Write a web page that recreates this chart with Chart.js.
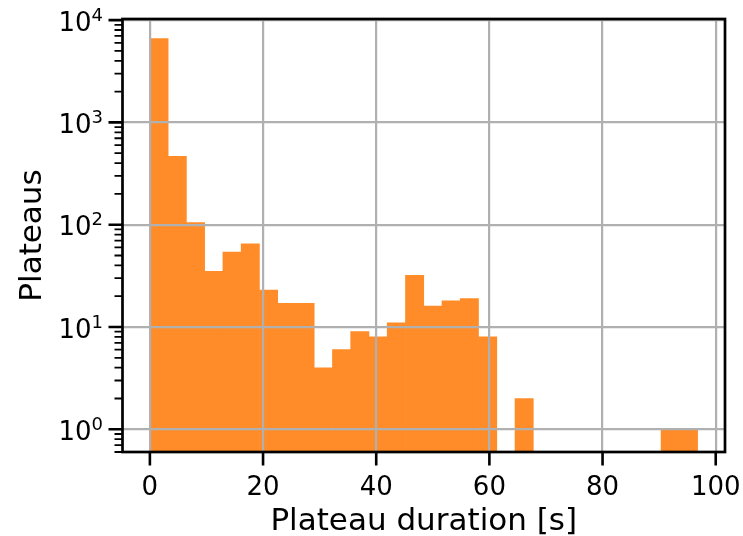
<!DOCTYPE html>
<html>
<head>
<meta charset="utf-8">
<script src="https://cdn.jsdelivr.net/npm/chart.js@4/dist/chart.umd.min.js"></script>
<style>
html,body{margin:0;padding:0;background:#ffffff;}
#wrap{width:743px;height:536px;position:relative;}
</style>
</head>
<body>
<div id="wrap"><canvas id="c" width="743" height="536"></canvas></div>
<script>
// ---- data (histogram of plateau durations) ----
const binEdges = [0, 3.23, 6.45, 9.68, 12.91, 16.13, 19.36, 22.59, 25.81, 29.04,
                  32.27, 35.49, 38.72, 41.95, 45.17, 48.40, 51.63, 54.85, 58.08, 61.31,
                  64.53, 67.76, 70.99, 74.21, 77.44, 80.67, 83.89, 87.12, 90.35, 93.57, 96.80];
const counts = [6600, 465, 105, 35, 54, 65, 23, 17, 17, 4,
                6, 9, 8, 11, 32, 16, 18, 19, 8, null,
                2, null, null, null, null, null, null, null, 1, 1];
const xTickValues = [0, 20, 40, 60, 80, 100];
const yTickExponents = [0, 1, 2, 3, 4];
const xLabel = 'Plateau duration [s]';
const yLabel = 'Plateaus';

const points = [];
for (let i = 0; i < counts.length; i++) {
  if (counts[i] !== null) points.push({x: (binEdges[i] + binEdges[i + 1]) / 2, y: counts[i]});
}

const FONT = '"DejaVu Sans", Verdana, sans-serif';

const axisDecor = {
  id: 'axisDecor',
  afterDraw(chart) {
    const {ctx, chartArea: a, scales: {x, y}} = chart;
    ctx.save();
    ctx.strokeStyle = '#000';
    ctx.lineCap = 'butt';
    // major ticks
    ctx.lineWidth = 2.6;
    ctx.beginPath();
    xTickValues.forEach(v => {
      const px = x.getPixelForValue(v);
      ctx.moveTo(px, a.bottom); ctx.lineTo(px, a.bottom + 13.5);
    });
    yTickExponents.forEach(e => {
      const py = y.getPixelForValue(Math.pow(10, e));
      ctx.moveTo(a.left, py); ctx.lineTo(a.left - 14, py);
    });
    ctx.stroke();
    // minor ticks (log axis)
    ctx.lineWidth = 1.8;
    ctx.beginPath();
    for (let e = -1; e <= 4; e++) {
      for (let k = 2; k <= 9; k++) {
        const v = k * Math.pow(10, e);
        if (v < y.min || v > y.max) continue;
        const py = y.getPixelForValue(v);
        ctx.moveTo(a.left, py); ctx.lineTo(a.left - 8, py);
      }
    }
    ctx.stroke();
    // frame
    ctx.lineWidth = 2.7;
    ctx.strokeRect(a.left, a.top, a.right - a.left, a.bottom - a.top);
    // x tick labels
    ctx.fillStyle = '#000';
    ctx.font = '26px ' + FONT;
    ctx.textAlign = 'center';
    ctx.textBaseline = 'alphabetic';
    xTickValues.forEach(v => ctx.fillText(String(v), x.getPixelForValue(v), a.bottom + 42.5));
    // y tick labels 10^n
    yTickExponents.forEach(e => {
      const py = y.getPixelForValue(Math.pow(10, e));
      const right = a.left - 19.5;
      ctx.font = '18px ' + FONT;
      const wExp = ctx.measureText(String(e)).width;
      ctx.textAlign = 'left';
      ctx.fillText(String(e), right - wExp, py + 0.7);
      ctx.font = '26px ' + FONT;
      ctx.textAlign = 'right';
      ctx.fillText('10', right - wExp, py + 10.7);
    });
    ctx.restore();
  }
};

const gridColor = '#b0b0b0';

new Chart(document.getElementById('c'), {
  type: 'bar',
  data: {
    datasets: [{
      label: yLabel,
      data: points,
      backgroundColor: 'rgb(255,140,40)',
      borderWidth: 0,
      barPercentage: 1.0,
      categoryPercentage: 1.0
    }]
  },
  options: {
    responsive: false,
    animation: false,
    devicePixelRatio: 1,
    layout: {padding: {top: 19, right: 18, left: 0, bottom: 0}},
    plugins: {legend: {display: false}, tooltip: {enabled: false}},
    scales: {
      x: {
        type: 'linear',
        offset: false,
        min: -4.84,
        max: 101.64,
        afterBuildTicks: s => { s.ticks = xTickValues.map(v => ({value: v})); },
        afterFit: s => { s.height = 84; },
        grid: {color: gridColor, lineWidth: 2.2, drawTicks: false, offset: false, z: 1},
        border: {display: false},
        ticks: {display: false},
        title: {display: true, text: xLabel, color: '#000',
                font: {family: FONT, size: 31}, padding: {top: 0, bottom: -4.4}}
      },
      y: {
        type: 'logarithmic',
        min: 0.644,
        max: 10250,
        afterBuildTicks: s => { s.ticks = yTickExponents.map(e => ({value: Math.pow(10, e), major: true})); },
        afterFit: s => { s.width = 122.5; },
        grid: {color: gridColor, lineWidth: 2.2, drawTicks: false, z: 1},
        border: {display: false},
        ticks: {display: false},
        title: {display: true, text: yLabel, color: '#000',
                font: {family: FONT, size: 31}, padding: {top: 14.5, bottom: 0}}
      }
    }
  },
  plugins: [axisDecor]
});
</script>
</body>
</html>
